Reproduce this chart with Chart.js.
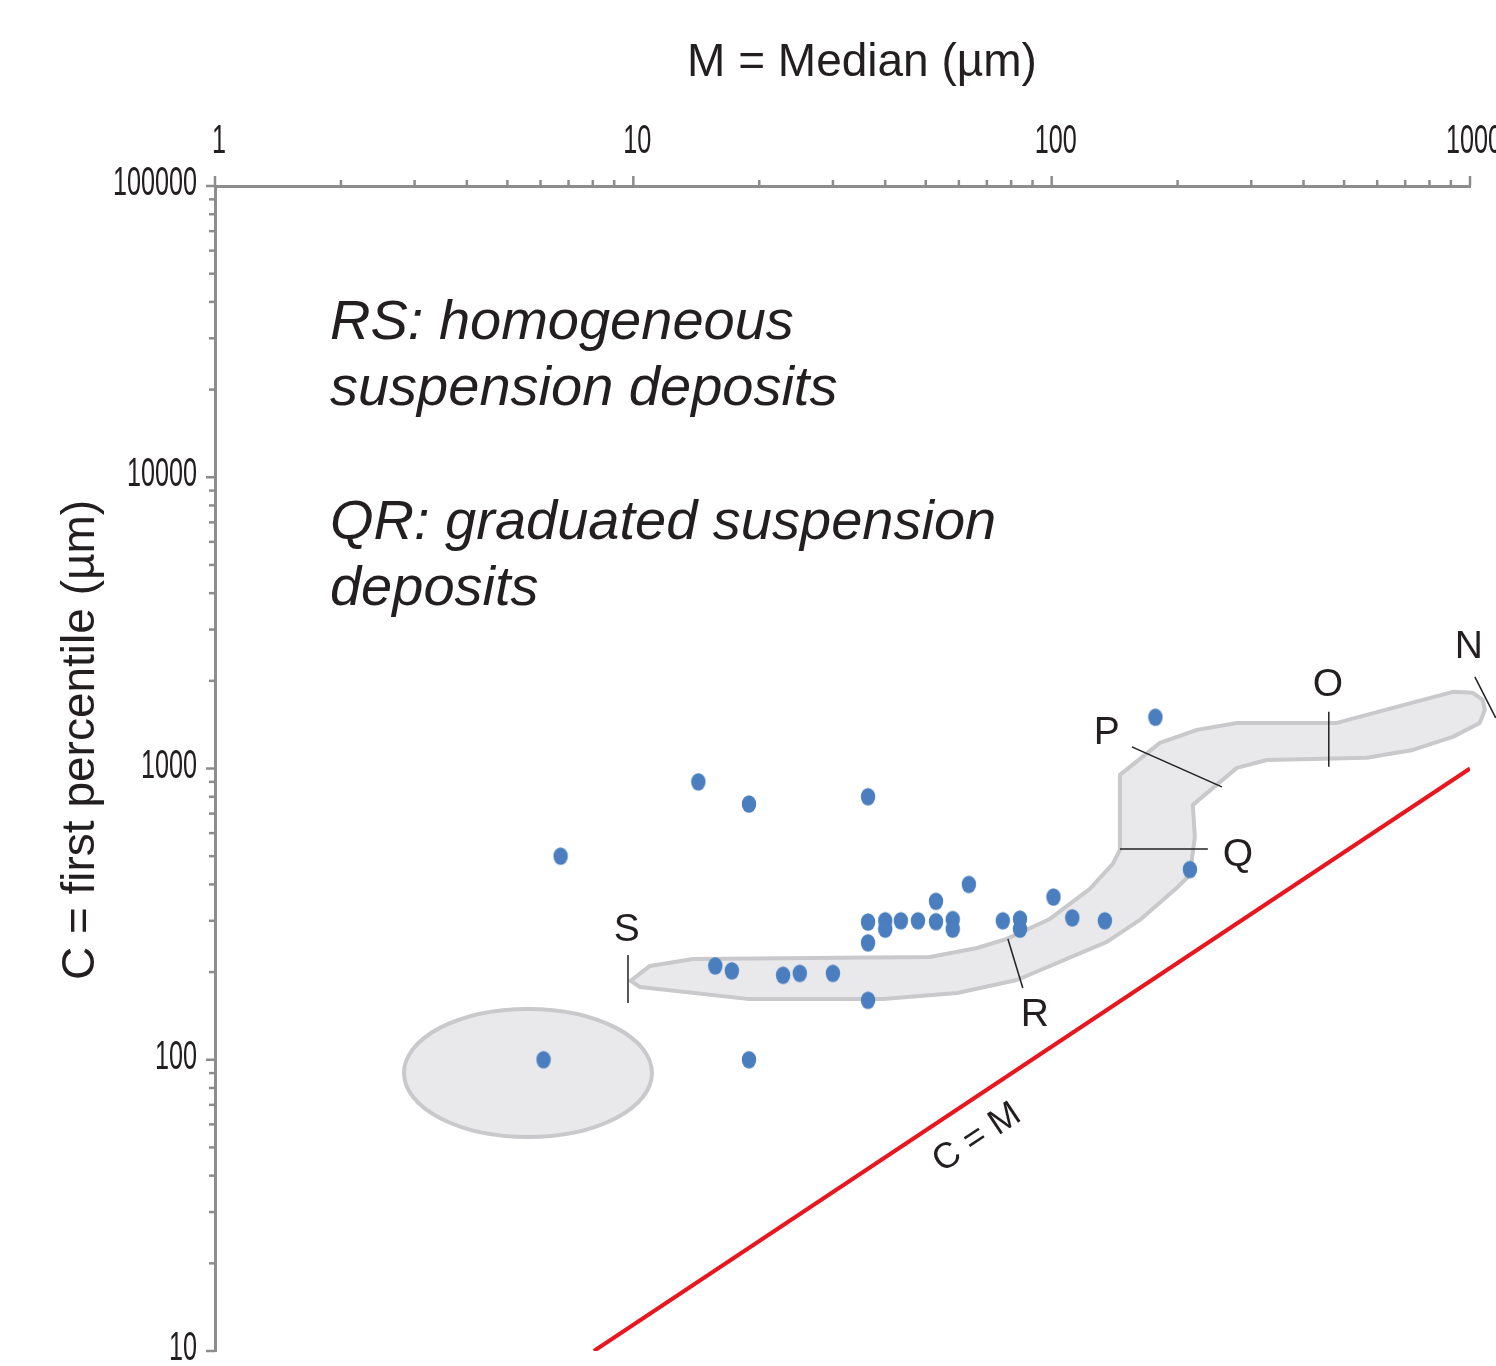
<!DOCTYPE html>
<html lang="en">
<head>
<meta charset="UTF-8">
<title>CM diagram</title>
<script src="https://cdn.jsdelivr.net/npm/chart.js@4"></script>
<style>
  html, body { margin: 0; padding: 0; background: #ffffff; overflow: hidden; }
  .wrap { position: absolute; left: 0; top: 0; width: 1560px; height: 1400px; }
</style>
</head>
<body>
<div class="wrap"><canvas id="cm" width="1560" height="1400"></canvas></div>
<script>
  // tick labels (log axes)
  const xTickLabels = ['1', '10', '100', '1000'];
  const yTickLabels = ['10', '100', '1000', '10000', '100000'];

  // samples: M = median, C = first percentile (µm)
  const sampleM = [6.7, 14.3, 18.9, 36.4, 6.1, 18.9, 15.7, 17.2, 22.8, 25, 30, 36.4, 36.4, 36.4, 40, 40,
                   43.6, 47.9, 52.9, 52.9, 58, 58, 63.4, 76.4, 84, 84, 101, 112, 134, 177, 214];
  const sampleC = [500, 900, 755, 800, 100, 100, 210, 202, 195, 198, 198, 160, 252, 297, 300, 281,
                   300, 300, 350, 298, 303, 281, 400, 300, 304, 281, 362, 307, 300, 1500, 450];

  // C = M line
  const cmLineM = [8.05, 1000];
  const cmLineC = [10, 1000];

  // outline of the N-O-P-Q-R-S band
  const bandM = [9.85, 10.96, 13.88, 51.2, 66.3, 78.1, 99.0, 123.4, 140.0, 145.6, 145.6, 181.4, 222.4, 277.1,
                 480.3, 909.8, 1015.6, 1073, 1085, 1055, 909.8, 730.1, 566.8, 326.9, 277.1, 217.5, 219.9,
                 213.9, 200.2, 162.5, 135.5, 82.6, 59.4, 39.5, 18.7, 10.37];
  const bandC = [186.5, 210.0, 221.9, 225.4, 242.0, 259.9, 304.4, 385.9, 470.3, 525.4, 950.6, 1224, 1357, 1434,
                 1434, 1833, 1819, 1720, 1589, 1434, 1284, 1158, 1088, 1070, 1005, 750, 582.4,
                 431.0, 392.1, 302.0, 253.8, 187.9, 169.6, 161.8, 161.8, 177.8];

  // ellipse field (bounding box)
  const ellipseM = [2.83, 11.08];
  const ellipseC = [54.3, 149.5];

  // segment letters and their leader lines
  const letters = ['S', 'R', 'Q', 'P', 'O', 'N'];
  const letterM = [9.65, 91.2, 278.6, 135.5, 457.2, 993];
  const letterC = [279, 142.5, 505, 1325, 1937, 2616];
  const leadM1 = [9.71, 78.6, 145.6, 155.5, 459.7, 1027];
  const leadC1 = [229, 259.9, 529.6, 1186, 1565, 2064];
  const leadM2 = [9.71, 85.3, 236.2, 255.2, 459.7, 1152];
  const leadC2 = [156.7, 176.4, 529.6, 864.7, 1013, 1492];

  const cmLabel = 'C = M';
  const cmLabelM = 66.3, cmLabelC = 53.9;

  const notes = ['RS: homogeneous', 'suspension deposits', 'QR: graduated suspension', 'deposits'];
  const noteM = 1.883;
  const noteC = [29880, 17730, 6144, 3646];

  const ink = '#231f20';
  const axisGrey = '#8c8c8c';
  const dotBlue = '#4a7ebf';
  const red = '#e8161e';
  const bandFill = '#e9e9ec';
  const bandEdge = '#c9c9cb';
  const sans = "'Liberation Sans', Arial, sans-serif";

  // slightly tall ellipse marker
  const dot = document.createElement('canvas');
  dot.width = 16; dot.height = 20;
  const dc = dot.getContext('2d');
  dc.fillStyle = dotBlue;
  dc.beginPath();
  dc.ellipse(8, 10, 7.2, 8.8, 0, 0, Math.PI * 2);
  dc.fill();

  const isDecade = v => Math.abs(Math.log10(v) - Math.round(Math.log10(v))) < 1e-9;
  const isWhole = v => {
    const s = v / Math.pow(10, Math.floor(Math.log10(v) + 1e-9));
    return Math.abs(s - Math.round(s)) < 1e-6;
  };
  const pt = (chart, m, c) => ({ x: chart.scales.x.getPixelForValue(m), y: chart.scales.y.getPixelForValue(c) });
  const tickLabel = labels => v => {
    const s = labels.find(l => Math.abs(Number(l) - v) < 1e-6);
    return s === undefined ? '' : s;
  };
  const xLabel = tickLabel(xTickLabels);
  const yLabel = tickLabel(yTickLabels);

  const fields = {
    id: 'fields',
    beforeDatasetsDraw(chart) {
      const ctx = chart.ctx;
      ctx.save();
      ctx.fillStyle = bandFill;
      ctx.strokeStyle = bandEdge;
      ctx.lineWidth = 4;
      ctx.lineJoin = 'round';
      ctx.beginPath();
      bandM.forEach((m, i) => {
        const p = pt(chart, m, bandC[i]);
        if (i) ctx.lineTo(p.x, p.y); else ctx.moveTo(p.x, p.y);
      });
      ctx.closePath();
      ctx.fill();
      ctx.stroke();

      const a = pt(chart, ellipseM[0], ellipseC[0]);
      const b = pt(chart, ellipseM[1], ellipseC[1]);
      ctx.beginPath();
      ctx.ellipse((a.x + b.x) / 2, (a.y + b.y) / 2, Math.abs(b.x - a.x) / 2, Math.abs(b.y - a.y) / 2, 0, 0, Math.PI * 2);
      ctx.fill();
      ctx.stroke();
      ctx.restore();
    }
  };

  const notesPlugin = {
    id: 'notes',
    afterDatasetsDraw(chart) {
      const ctx = chart.ctx;
      ctx.save();
      // leader lines
      ctx.strokeStyle = ink;
      ctx.lineWidth = 1.5;
      letters.forEach((l, i) => {
        const p1 = pt(chart, leadM1[i], leadC1[i]);
        const p2 = pt(chart, leadM2[i], leadC2[i]);
        ctx.beginPath();
        ctx.moveTo(p1.x, p1.y);
        ctx.lineTo(p2.x, p2.y);
        ctx.stroke();
      });
      // letters
      ctx.fillStyle = ink;
      ctx.font = '39px ' + sans;
      ctx.textAlign = 'center';
      ctx.textBaseline = 'middle';
      letters.forEach((l, i) => {
        const p = pt(chart, letterM[i], letterC[i]);
        ctx.fillText(l, p.x, p.y);
      });
      // C = M label along the red line
      const r1 = pt(chart, cmLineM[0], cmLineC[0]);
      const r2 = pt(chart, cmLineM[1], cmLineC[1]);
      const ang = Math.atan2(r2.y - r1.y, r2.x - r1.x);
      const lp = pt(chart, cmLabelM, cmLabelC);
      ctx.save();
      ctx.translate(lp.x, lp.y);
      ctx.rotate(ang);
      ctx.font = '36px ' + sans;
      ctx.fillText(cmLabel, 0, 0);
      ctx.restore();
      // italic notes
      ctx.font = 'italic 56px ' + sans;
      ctx.textAlign = 'left';
      ctx.textBaseline = 'alphabetic';
      notes.forEach((t, i) => {
        const p = pt(chart, noteM, noteC[i]);
        ctx.fillText(t, p.x, p.y);
      });
      ctx.restore();
    }
  };

  // condensed tick labels, tick marks and axis titles
  const axisMarks = {
    id: 'axisMarks',
    afterDraw(chart) {
      const ctx = chart.ctx;
      const a = chart.chartArea;
      const sx = chart.scales.x, sy = chart.scales.y;
      ctx.save();
      ctx.strokeStyle = axisGrey;
      ctx.lineWidth = 2.5;
      sx.ticks.forEach(t => {
        if (!isWhole(t.value)) return;
        const x = sx.getPixelForValue(t.value);
        const len = isDecade(t.value) ? 10 : 6;
        ctx.beginPath();
        ctx.moveTo(x, a.top);
        ctx.lineTo(x, a.top - len);
        ctx.stroke();
      });
      sy.ticks.forEach(t => {
        if (!isWhole(t.value)) return;
        const y = sy.getPixelForValue(t.value);
        const len = isDecade(t.value) ? 9 : 6;
        ctx.beginPath();
        ctx.moveTo(a.left, y);
        ctx.lineTo(a.left - len, y);
        ctx.stroke();
      });

      ctx.fillStyle = ink;
      ctx.font = '40px ' + sans;
      ctx.textBaseline = 'alphabetic';
      const squeeze = 0.63;
      ctx.textAlign = 'center';
      sx.ticks.forEach(t => {
        const s = xLabel(t.value);
        if (!s) return;
        const x = sx.getPixelForValue(t.value) + 4;
        ctx.save();
        ctx.translate(x, a.top - 33);
        ctx.scale(squeeze, 1);
        ctx.fillText(s, 0, 0);
        ctx.restore();
      });
      ctx.textAlign = 'right';
      sy.ticks.forEach(t => {
        const s = yLabel(t.value);
        if (!s) return;
        const y = sy.getPixelForValue(t.value) + 9;
        ctx.save();
        ctx.translate(a.left - 18, y);
        ctx.scale(squeeze, 1);
        ctx.fillText(s, 0, 0);
        ctx.restore();
      });

      // axis titles
      ctx.font = '46px ' + sans;
      ctx.textAlign = 'center';
      ctx.textBaseline = 'middle';
      ctx.fillText('M = Median (µm)', 862, 63);
      ctx.translate(81, 740);
      ctx.rotate(-Math.PI / 2);
      ctx.fillText('C = first percentile (µm)', 0, 0);
      ctx.restore();
    }
  };

  new Chart(document.getElementById('cm'), {
    type: 'scatter',
    data: {
      datasets: [{
        label: 'Samples',
        data: sampleM.map((m, i) => ({ x: m, y: sampleC[i] })),
        pointStyle: dot,
        pointRadius: 8,
        pointHoverRadius: 8
      }, {
        label: 'C = M',
        data: cmLineM.map((m, i) => ({ x: m, y: cmLineC[i] })),
        showLine: true,
        borderColor: red,
        borderWidth: 4,
        pointRadius: 0
      }]
    },
    options: {
      responsive: false,
      animation: false,
      events: [],
      layout: { padding: { left: 0, top: 0, right: 90, bottom: 49 } },
      plugins: { legend: { display: false }, tooltip: { enabled: false } },
      scales: {
        x: {
          type: 'logarithmic',
          position: 'top',
          min: 1,
          max: 1000,
          afterFit: s => { s.height = 186; },
          grid: { display: false, drawTicks: false },
          border: { display: true, color: axisGrey, width: 3 },
          ticks: { display: false, autoSkip: false, callback: xLabel }
        },
        y: {
          type: 'logarithmic',
          position: 'left',
          min: 10,
          max: 100000,
          afterFit: s => { s.width = 215; },
          grid: { display: false, drawTicks: false },
          border: { display: true, color: axisGrey, width: 3 },
          ticks: { display: false, autoSkip: false, callback: yLabel }
        }
      }
    },
    plugins: [fields, notesPlugin, axisMarks]
  });
</script>
</body>
</html>
